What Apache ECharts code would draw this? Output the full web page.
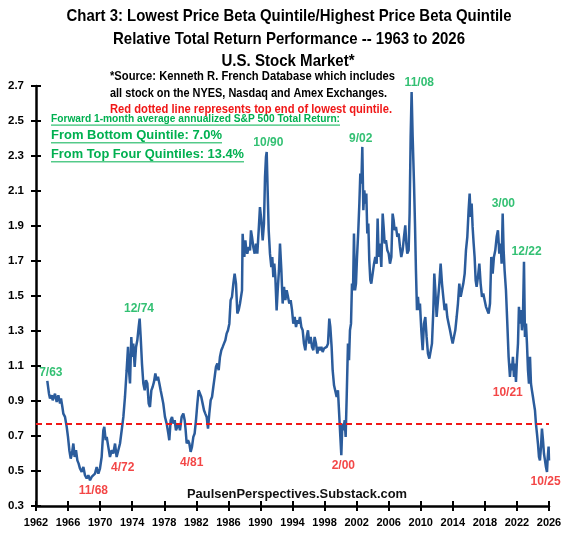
<!DOCTYPE html>
<html>
<head>
<meta charset="utf-8">
<script src="https://cdn.jsdelivr.net/npm/echarts@6/dist/echarts.min.js"></script>
<style>
  html, body { margin: 0; padding: 0; background: #fff; }
  #chart { width: 578px; height: 539px; }
</style>
</head>
<body>
<div id="chart"></div>
<script>
// Lowest / highest price-beta quintile relative total return
const years = [
  1963.41, 1963.62, 1963.75, 1963.96, 1964.08, 1964.25, 1964.37, 1964.58, 1964.79, 1965.00,
  1965.12, 1965.29, 1965.41, 1965.62, 1965.83, 1965.99, 1966.16, 1966.33, 1966.49, 1966.66,
  1966.82, 1966.99, 1967.16, 1967.32, 1967.49, 1967.70, 1967.91, 1968.11, 1968.32, 1968.53,
  1968.74, 1968.94, 1969.15, 1969.36, 1969.57, 1969.78, 1969.98, 1970.19, 1970.40, 1970.52,
  1970.69, 1970.82, 1971.02, 1971.23, 1971.44, 1971.65, 1971.86, 1972.06, 1972.27, 1972.48,
  1972.69, 1972.90, 1973.10, 1973.31, 1973.48, 1973.60, 1973.73, 1973.89, 1974.02, 1974.14,
  1974.31, 1974.48, 1974.64, 1974.81, 1974.93, 1975.06, 1975.22, 1975.39, 1975.56, 1975.72,
  1975.89, 1976.06, 1976.22, 1976.39, 1976.55, 1976.72, 1976.89, 1977.05, 1977.22, 1977.39,
  1977.55, 1977.72, 1977.88, 1978.09, 1978.30, 1978.51, 1978.63, 1978.80, 1978.97, 1979.13,
  1979.30, 1979.46, 1979.63, 1979.80, 1979.96, 1980.17, 1980.38, 1980.55, 1980.67, 1980.80,
  1980.96, 1981.13, 1981.29, 1981.46, 1981.63, 1981.79, 1981.96, 1982.13, 1982.29, 1982.46,
  1982.62, 1982.79, 1982.96, 1983.12, 1983.29, 1983.46, 1983.62, 1983.79, 1983.96, 1984.12,
  1984.29, 1984.45, 1984.62, 1984.79, 1984.95, 1985.12, 1985.29, 1985.45, 1985.62, 1985.78,
  1985.95, 1986.12, 1986.28, 1986.45, 1986.62, 1986.78, 1986.95, 1987.12, 1987.28, 1987.45,
  1987.70, 1987.78, 1987.87, 1987.99, 1988.12, 1988.24, 1988.36, 1988.53, 1988.70, 1988.82,
  1988.95, 1989.11, 1989.28, 1989.45, 1989.61, 1989.78, 1989.94, 1990.11, 1990.28, 1990.44,
  1990.57, 1990.69, 1990.78, 1990.90, 1991.03, 1991.19, 1991.36, 1991.48, 1991.61, 1991.73,
  1991.86, 1992.02, 1992.15, 1992.31, 1992.44, 1992.61, 1992.77, 1992.94, 1993.11, 1993.27,
  1993.44, 1993.60, 1993.77, 1993.94, 1994.10, 1994.27, 1994.44, 1994.60, 1994.77, 1994.93,
  1995.10, 1995.27, 1995.43, 1995.60, 1995.77, 1995.93, 1996.10, 1996.27, 1996.43, 1996.60,
  1996.76, 1996.93, 1997.10, 1997.26, 1997.43, 1997.60, 1997.76, 1997.93, 1998.09, 1998.26,
  1998.43, 1998.59, 1998.72, 1998.88, 1999.01, 1999.18, 1999.34, 1999.51, 1999.67, 1999.84,
  1999.97, 2000.09, 2000.22, 2000.34, 2000.51, 2000.63, 2000.76, 2000.92, 2001.05, 2001.17,
  2001.30, 2001.42, 2001.55, 2001.67, 2001.80, 2001.92, 2002.05, 2002.21, 2002.34, 2002.46,
  2002.59, 2002.71, 2002.84, 2002.96, 2003.08, 2003.21, 2003.33, 2003.46, 2003.58, 2003.71,
  2003.83, 2004.00, 2004.17, 2004.33, 2004.50, 2004.62, 2004.75, 2004.91, 2005.08, 2005.25,
  2005.37, 2005.50, 2005.66, 2005.83, 2006.00, 2006.16, 2006.33, 2006.49, 2006.62, 2006.74,
  2006.91, 2007.08, 2007.24, 2007.41, 2007.57, 2007.74, 2007.91, 2008.07, 2008.20, 2008.32,
  2008.49, 2008.61, 2008.74, 2008.86, 2008.99, 2009.16, 2009.28, 2009.40, 2009.53, 2009.65,
  2009.78, 2009.90, 2010.07, 2010.24, 2010.40, 2010.57, 2010.73, 2010.90, 2011.07, 2011.23,
  2011.40, 2011.57, 2011.69, 2011.82, 2011.98, 2012.15, 2012.32, 2012.48, 2012.65, 2012.81,
  2012.98, 2013.15, 2013.31, 2013.48, 2013.65, 2013.81, 2013.98, 2014.14, 2014.31, 2014.48,
  2014.64, 2014.81, 2014.98, 2015.14, 2015.31, 2015.48, 2015.64, 2015.81, 2015.97, 2016.10,
  2016.22, 2016.35, 2016.47, 2016.60, 2016.72, 2016.85, 2016.97, 2017.14, 2017.31, 2017.47,
  2017.64, 2017.80, 2017.97, 2018.14, 2018.30, 2018.47, 2018.64, 2018.80, 2018.97, 2019.13,
  2019.30, 2019.47, 2019.63, 2019.80, 2019.97, 2020.09, 2020.22, 2020.34, 2020.46, 2020.63,
  2020.80, 2020.96, 2021.13, 2021.26, 2021.38, 2021.50, 2021.63, 2021.75, 2021.88, 2022.00,
  2022.13, 2022.25, 2022.38, 2022.50, 2022.63, 2022.75, 2022.88, 2023.00, 2023.13, 2023.25,
  2023.38, 2023.50, 2023.63, 2023.75, 2023.87, 2024.00, 2024.12, 2024.25, 2024.37, 2024.50,
  2024.62, 2024.75, 2024.87, 2025.00, 2025.12, 2025.25, 2025.37, 2025.50, 2025.62, 2025.75,
  2025.83, 2025.90, 2025.95, 2026.00
];
const ratio = [
  1.015, 0.942, 0.914, 0.933, 0.904, 0.914, 0.942, 0.895, 0.933, 0.885,
  0.914, 0.866, 0.828, 0.809, 0.752, 0.695, 0.619, 0.571, 0.600, 0.657,
  0.580, 0.619, 0.561, 0.542, 0.514, 0.495, 0.523, 0.476, 0.457, 0.476,
  0.447, 0.466, 0.457, 0.485, 0.523, 0.485, 0.514, 0.580, 0.733, 0.752,
  0.676, 0.695, 0.638, 0.580, 0.619, 0.600, 0.657, 0.580, 0.571, 0.657,
  0.733, 0.809, 0.923, 1.076, 1.209, 1.076, 1.000, 1.266, 1.152, 1.228,
  1.095, 1.209, 1.247, 1.323, 1.371, 1.266, 1.114, 1.000, 0.961, 1.019,
  1.000, 0.885, 0.866, 0.961, 0.980, 1.009, 1.057, 1.019, 1.038, 1.000,
  0.961, 0.923, 0.885, 0.809, 0.771, 0.714, 0.676, 0.790, 0.809, 0.771,
  0.790, 0.733, 0.752, 0.771, 0.733, 0.809, 0.828, 0.790, 0.733, 0.657,
  0.676, 0.657, 0.609, 0.638, 0.695, 0.714, 0.790, 0.885, 0.961, 0.971,
  0.923, 0.885, 0.847, 0.828, 0.809, 0.742, 0.828, 0.904, 0.923, 0.980,
  1.038, 1.095, 1.114, 1.076, 1.152, 1.190, 1.209, 1.228, 1.247, 1.285,
  1.304, 1.342, 1.476, 1.495, 1.571, 1.628, 1.571, 1.400, 1.419, 1.457,
  1.532, 1.856, 1.780, 1.723, 1.818, 1.761, 1.742, 1.780, 1.761, 1.875,
  1.837, 1.780, 1.742, 1.799, 1.742, 1.875, 2.008, 1.932, 1.818, 1.913,
  2.180, 2.294, 2.323, 2.104, 1.875, 1.742, 1.665, 1.723, 1.608, 1.685,
  1.608, 1.418, 1.532, 1.646, 1.800, 1.647, 1.457, 1.552, 1.476, 1.533,
  1.495, 1.457, 1.476, 1.419, 1.342, 1.380, 1.323, 1.361, 1.342, 1.380,
  1.323, 1.304, 1.228, 1.190, 1.266, 1.304, 1.228, 1.266, 1.209, 1.190,
  1.266, 1.228, 1.171, 1.209, 1.190, 1.209, 1.180, 1.200, 1.190, 1.209,
  1.228, 1.371, 1.323, 1.209, 1.076, 0.990, 0.990, 0.923, 0.961, 0.809,
  0.695, 0.590, 0.771, 0.733, 0.790, 0.695, 0.923, 1.228, 1.133, 1.304,
  1.342, 1.571, 1.533, 1.857, 1.533, 1.571, 1.723, 1.876, 2.028, 2.200,
  2.142, 2.352, 1.990, 2.104, 2.028, 2.085, 1.857, 1.914, 1.704, 1.590,
  1.571, 1.628, 1.685, 1.723, 1.685, 1.942, 1.723, 1.800, 1.666, 1.971,
  1.895, 1.800, 1.819, 1.761, 1.742, 1.685, 1.723, 1.971, 1.933, 1.876,
  1.895, 1.838, 1.857, 1.780, 1.723, 1.761, 1.838, 1.904, 1.800, 1.742,
  1.761, 1.971, 2.410, 2.666, 2.410, 2.142, 1.914, 1.647, 1.419, 1.495,
  1.419, 1.457, 1.304, 1.190, 1.342, 1.380, 1.266, 1.171, 1.142, 1.152,
  1.228, 1.419, 1.628, 1.533, 1.380, 1.476, 1.571, 1.685, 1.571, 1.495,
  1.419, 1.457, 1.380, 1.342, 1.304, 1.266, 1.228, 1.266, 1.304, 1.380,
  1.457, 1.571, 1.495, 1.533, 1.571, 1.628, 1.761, 1.838, 1.990, 2.085,
  1.952, 2.028, 1.895, 1.800, 1.723, 1.590, 1.552, 1.609, 1.685, 1.571,
  1.495, 1.514, 1.476, 1.438, 1.419, 1.400, 1.457, 1.723, 1.628, 1.723,
  1.761, 1.838, 1.876, 1.742, 1.800, 1.685, 1.971, 1.761, 1.647, 1.533,
  1.342, 1.152, 1.038, 1.114, 1.076, 1.152, 1.038, 1.114, 1.009, 1.133,
  1.228, 1.438, 1.342, 1.419, 1.304, 1.380, 1.695, 1.266, 1.342, 1.228,
  1.076, 0.999, 1.152, 0.999, 0.961, 0.923, 0.885, 0.847, 0.771, 0.714,
  0.657, 0.580, 0.561, 0.638, 0.742, 0.676, 0.600, 0.561, 0.523, 0.495,
  0.570, 0.560, 0.640, 0.560
];

// highs (green) and lows (red) annotations: text and where its centre sits (data units)
const highText = ['7/63', '12/74', '10/90', '9/02', '11/08', '3/00', '12/22'];
const highX    = [1963.85, 1974.85, 1990.98, 2002.5, 2009.82, 2020.3, 2023.21];
const highY    = [1.062, 1.425, 2.375, 2.40, 2.717, 2.025, 1.755];
const lowText  = ['11/68', '4/72', '4/81', '2/00', '10/21', '10/25'];
const lowX     = [1969.15, 1972.81, 1981.42, 2000.34, 2020.85, 2025.57];
const lowY     = [0.386, 0.519, 0.546, 0.529, 0.948, 0.437];

const quintileTop = 0.77;   // top end of lowest quintile

const X_MIN = 1962, X_MAX = 2026, X_STEP = 4;
const Y_MIN = 0.3, Y_MAX = 2.7, Y_STEP = 0.2;

const BLUE  = '#2b5c9c';
const GREEN = '#00b050';
const RED   = '#f01818';
const SANS  = "'Liberation Sans', Arial, sans-serif";

// The source uses a narrow bold face; draw Liberation Sans bold and squeeze it
// horizontally to the width each line has in the picture.
const ruler = document.createElement('canvas').getContext('2d');
function textWidth(str, size) {
  ruler.font = 'bold ' + size + 'px ' + SANS;
  return ruler.measureText(str).width;
}
function fitted(str, x, y, size, color, width, align) {
  return {
    type: 'text', x: x, y: y, silent: true,
    scaleX: width / textWidth(str, size),
    style: {
      text: str, fill: color, fontSize: size, fontWeight: 'bold',
      fontFamily: SANS, align: align || 'center', verticalAlign: 'middle'
    }
  };
}
function underlined(str, x, y, size, color, width) {
  return [
    fitted(str, x, y, size, color, width, 'left'),
    { type: 'line', silent: true,
      shape: { x1: x, y1: y + size * 0.58, x2: x + width, y2: y + size * 0.58 },
      style: { stroke: color, lineWidth: 1 } }
  ];
}

const chart = echarts.init(document.getElementById('chart'), null, { renderer: 'canvas' });

const axisCommon = {
  type: 'value',
  axisLine: { show: true, lineStyle: { color: '#000', width: 2.5 } },
  splitLine: { show: false }
};
const innerTicks = {
  axisLine: { show: false },
  axisTick: { show: true, inside: true, length: 5, lineStyle: { color: '#000', width: 2 } },
  axisLabel: { show: false }
};

const option = {
  backgroundColor: '#fff',
  animation: false,
  grid: { left: 36, right: 29, top: 86, bottom: 33 },
  xAxis: [
    Object.assign({}, axisCommon, {
      min: X_MIN, max: X_MAX, interval: X_STEP, position: 'bottom',
      axisTick: { show: true, length: 5, lineStyle: { color: '#000', width: 2 } },
      axisLabel: { color: '#000', fontWeight: 'bold', fontSize: 11, fontFamily: SANS, margin: 11,
                   formatter: (v) => String(v) }
    }),
    Object.assign({}, axisCommon, innerTicks, { min: X_MIN, max: X_MAX, interval: X_STEP, position: 'bottom' })
  ],
  yAxis: [
    Object.assign({}, axisCommon, {
      min: Y_MIN, max: Y_MAX, interval: Y_STEP, position: 'left',
      axisTick: { show: true, length: 5, lineStyle: { color: '#000', width: 2 } },
      axisLabel: {
        color: '#000', fontWeight: 'bold', fontSize: 11.5, fontFamily: SANS, margin: 12,
        formatter: (v) => v.toFixed(1)
      }
    }),
    Object.assign({}, axisCommon, innerTicks, { min: Y_MIN, max: Y_MAX, interval: Y_STEP, position: 'left' })
  ],
  series: [
    {
      type: 'line',
      data: years.map((y, i) => [y, ratio[i]]),
      showSymbol: false,
      clip: false,
      lineStyle: { color: BLUE, width: 2.5 },
      markLine: {
        silent: true, symbol: 'none', animation: false,
        label: { show: false },
        lineStyle: { color: RED, type: [6, 4], width: 2 },
        data: [{ yAxis: quintileTop }]
      }
    },
    {
      type: 'scatter', clip: false, silent: true, z: 5,
      symbolSize: 1, itemStyle: { color: 'rgba(0,0,0,0)' },
      label: { show: true, position: 'inside', formatter: '{b}', color: GREEN,
               fontWeight: 'bold', fontSize: 12, fontFamily: SANS },
      data: highText.map((t, i) => ({ name: t, value: [highX[i], highY[i]] }))
    },
    {
      type: 'scatter', clip: false, silent: true, z: 5,
      symbolSize: 1, itemStyle: { color: 'rgba(0,0,0,0)' },
      label: { show: true, position: 'inside', formatter: '{b}', color: RED,
               fontWeight: 'bold', fontSize: 12, fontFamily: SANS },
      data: lowText.map((t, i) => ({ name: t, value: [lowX[i], lowY[i]] }))
    }
  ],
  graphic: [].concat(
    fitted('Chart 3: Lowest Price Beta Quintile/Highest Price Beta Quintile', 289, 16, 16.5, '#000', 445),
    fitted('Relative Total Return Performance -- 1963 to 2026', 289, 39, 16.5, '#000', 352),
    fitted('U.S. Stock Market*', 288, 61, 16.5, '#000', 133),
    fitted('*Source: Kenneth R. French Database which includes', 110, 76, 13, '#000', 285, 'left'),
    fitted('all stock on the NYES, Nasdaq and Amex Exchanges.', 110, 93, 13, '#000', 277, 'left'),
    fitted('Red dotted line represents top end of lowest quintile.', 110, 109, 13, RED, 282, 'left'),
    underlined('Forward 1-month average annualized S&P 500 Total Return:', 51, 119, 10.5, GREEN, 289),
    underlined('From Bottom Quintile: 7.0%', 51, 135, 13.5, GREEN, 171),
    underlined('From Top Four Quintiles: 13.4%', 51, 154, 13.5, GREEN, 193),
    fitted('PaulsenPerspectives.Substack.com', 297, 494, 13, '#111', 220)
  )
};

chart.setOption(option);
</script>
</body>
</html>
